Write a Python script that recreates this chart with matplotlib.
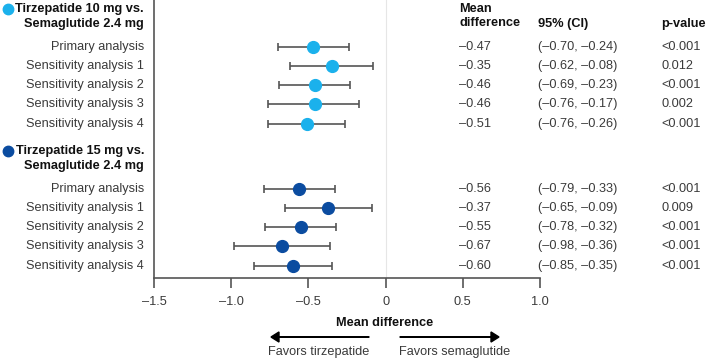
import matplotlib.pyplot as plt
from matplotlib.lines import Line2D
from matplotlib.patches import FancyArrow
import numpy as np

plt.rcParams['font.family'] = ['Liberation Sans', 'DejaVu Sans']

groups = ['Tirzepatide 10 mg vs.\nSemaglutide 2.4 mg', 'Tirzepatide 15 mg vs.\nSemaglutide 2.4 mg']
group_colors = ['#1BB1EC', '#0B4CA0']
analyses = ['Primary analysis', 'Sensitivity analysis 1', 'Sensitivity analysis 2',
            'Sensitivity analysis 3', 'Sensitivity analysis 4']

mean_10 = [-0.47, -0.35, -0.46, -0.46, -0.51]
lo_10 = [-0.70, -0.62, -0.69, -0.76, -0.76]
hi_10 = [-0.24, -0.08, -0.23, -0.17, -0.26]
p_10 = ['<0.001', '0.012', '<0.001', '0.002', '<0.001']

mean_15 = [-0.56, -0.37, -0.55, -0.67, -0.60]
lo_15 = [-0.79, -0.65, -0.78, -0.98, -0.85]
hi_15 = [-0.33, -0.09, -0.32, -0.36, -0.35]
p_15 = ['<0.001', '0.009', '<0.001', '<0.001', '<0.001']

xticks = [-1.5, -1.0, -0.5, 0, 0.5, 1.0]


def fmt(v):
    s = '%.2f' % abs(v)
    return ('\u2013' + s) if v < 0 else s


def fmt_tick(v):
    if v == 0:
        return '0'
    s = '%.1f' % abs(v)
    return ('\u2013' + s) if v < 0 else s


fig = plt.figure(figsize=(7.09, 3.6), dpi=100)
W, H = 709, 360
ax = fig.add_axes([154 / W, 1 - 278 / H, (540 - 154) / W, 278 / H])

ax.set_xlim(-1.5, 1.0)
ax.set_ylim(12.05, -2.45)

fs = 9.2
txt = '#3a3a3a'
label_x = 144 / W
col_md = 459 / W
col_ci = 538 / W
col_p = 661 / W


def fig_y(yv):
    # data y -> figure fraction
    return ax.transData.transform((0, yv))[1] / fig.bbox.height


ax.axvline(0, color='#e6e6e6', lw=0.8, zorder=0)

starts = [0, 7.4]
data = [(mean_10, lo_10, hi_10, p_10), (mean_15, lo_15, hi_15, p_15)]
for name, col, y0, (m, lo, hi, p) in zip(groups, group_colors, starts, data):
    ys = y0 + np.arange(len(m))
    m = np.array(m)
    lo = np.array(lo)
    hi = np.array(hi)
    ax.errorbar(m, ys, xerr=[m - lo, hi - m], fmt='o', color=col, ms=8.5,
                ecolor='#555555', elinewidth=1.2, capsize=3, capthick=1.2, zorder=3)
    # header
    hy = fig_y(y0 - 1.6)
    fig.text(label_x, hy, name, ha='right', va='center', fontsize=fs,
             fontweight='bold', linespacing=1.3, color='#111111')
    fig.add_artist(Line2D([8 / W], [fig_y(y0 - 2.0)], marker='o', ms=7.5, color=col,
                          transform=fig.transFigure))
    for i, yv in enumerate(ys):
        fy = fig_y(yv)
        fig.text(label_x, fy, analyses[i], ha='right', va='center', fontsize=fs, color=txt)
        fig.text(col_md, fy, fmt(m[i]), ha='left', va='center', fontsize=fs, color=txt)
        fig.text(col_ci, fy, '(%s, %s)' % (fmt(lo[i]), fmt(hi[i])), ha='left', va='center',
                 fontsize=fs, color=txt)
        fig.text(col_p, fy, p[i], ha='left', va='center', fontsize=fs, color=txt)

# column headers
fig.text(col_md, 1 - 16 / H, 'Mean\ndifference', ha='left', va='center', fontsize=fs,
         fontweight='bold', linespacing=1.3, color='#111111')
fig.text(col_ci, 1 - 24 / H, '95% (CI)', ha='left', va='center', fontsize=fs,
         fontweight='bold', color='#111111')
fig.text(col_p, 1 - 24 / H, 'p-value', ha='left', va='center', fontsize=fs,
         fontweight='bold', color='#111111')

for s in ['top', 'right']:
    ax.spines[s].set_visible(False)
for s in ['left', 'bottom']:
    ax.spines[s].set_color('#555555')
    ax.spines[s].set_linewidth(1.2)
ax.set_yticks([])
ax.set_xticks(xticks)
ax.set_xticklabels([fmt_tick(v) for v in xticks], fontsize=fs, color=txt)
ax.tick_params(axis='x', length=7, width=1.2, color='#555555', pad=6)

fig.text(385 / W, 1 - 323 / H, 'Mean difference', ha='center', va='center', fontsize=fs,
         fontweight='bold', color='#111111')
fig.add_artist(FancyArrow(369 / W, 1 - 337 / H, -(369 - 271) / W, 0, width=0.0015,
                          head_width=0.028, head_length=8 / W, length_includes_head=True,
                          color='black', transform=fig.transFigure))
fig.add_artist(FancyArrow(400 / W, 1 - 337 / H, (499 - 400) / W, 0, width=0.0015,
                          head_width=0.028, head_length=8 / W, length_includes_head=True,
                          color='black', transform=fig.transFigure))
fig.text(369 / W, 1 - 352 / H, 'Favors tirzepatide', ha='right', va='center', fontsize=fs,
         color=txt)
fig.text(399 / W, 1 - 352 / H, 'Favors semaglutide', ha='left', va='center', fontsize=fs,
         color=txt)

fig.savefig('out.png', dpi=100)
